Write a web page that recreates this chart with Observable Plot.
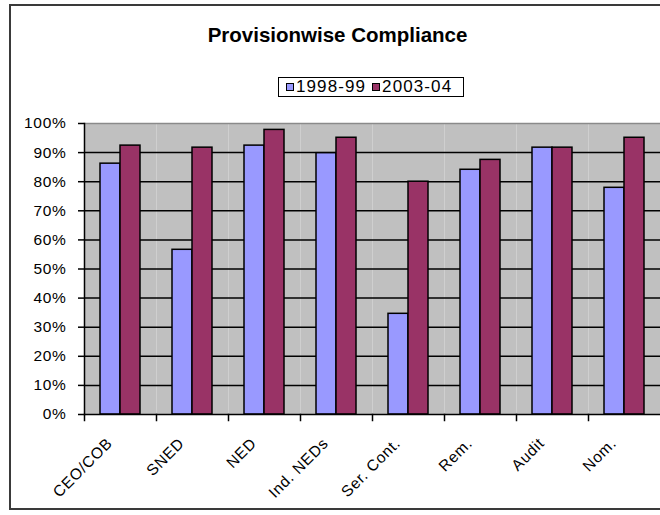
<!DOCTYPE html>
<html>
<head>
<meta charset="utf-8">
<script src="https://cdn.jsdelivr.net/npm/d3@7"></script>
<script src="https://cdn.jsdelivr.net/npm/@observablehq/plot@0.6"></script>
<style>
  html, body { margin: 0; padding: 0; background: #fff; overflow: hidden; width: 660px; height: 515px; }
  body { position: relative; font-family: "Liberation Sans", Arial, sans-serif; }
  #border { position: absolute; left: 9px; top: 4px; width: 680px; height: 506px; border: 2px solid #3a3a3a; box-sizing: border-box; }
  #title { position: absolute; left: 0; width: 675px; top: 25px; line-height: 20px; text-align: center; font-weight: bold; font-size: 20.5px; color: #000; white-space: nowrap; }
  #legend { position: absolute; left: 278px; top: 77px; width: 186px; height: 20px; box-sizing: border-box; border: 1.5px solid #000; background: #fff; display: flex; align-items: center; padding-left: 7px; font-size: 17px; letter-spacing: 1.1px; color: #000; white-space: nowrap; }
  #legend .item { display: flex; align-items: center; margin-right: 6px; flex-shrink: 0; white-space: nowrap; }
  #legend .sw { width: 6px; height: 6px; border: 1px solid #000; margin-right: 2px; flex-shrink: 0; }
  #chart { position: absolute; left: 0; top: 0; }
  #chart svg text { letter-spacing: 0.7px; }
</style>
</head>
<body>
<div id="border"></div>
<div id="chart"></div>
<div id="title">Provisionwise Compliance</div>
<div id="legend"></div>
<script>
const categories = ["CEO/COB", "SNED", "NED", "Ind. NEDs", "Ser. Cont.", "Rem.", "Audit", "Nom."];
const seriesNames = ["1998-99", "2003-04"];
const values1998 = [0.862, 0.566, 0.924, 0.898, 0.346, 0.841, 0.917, 0.779];
const values2003 = [0.924, 0.917, 0.978, 0.951, 0.800, 0.875, 0.917, 0.951];
const seriesColors = ["#9999ff", "#993366"];
const yTicks = [0, 0.1, 0.2, 0.3, 0.4, 0.5, 0.6, 0.7, 0.8, 0.9, 1];
const gridTicks = [0.1, 0.2, 0.3, 0.4, 0.5, 0.6, 0.7, 0.8, 0.9];

const data = [];
categories.forEach((c, i) => {
  data.push({category: c, series: seriesNames[0], value: values1998[i]});
  data.push({category: c, series: seriesNames[1], value: values2003[i]});
});

// legend
const legend = document.getElementById("legend");
seriesNames.forEach((s, i) => {
  const item = document.createElement("div");
  item.className = "item";
  const sw = document.createElement("div");
  sw.className = "sw";
  sw.style.background = seriesColors[i];
  const t = document.createElement("span");
  t.textContent = s;
  item.appendChild(sw);
  item.appendChild(t);
  legend.appendChild(item);
});

const chart = Plot.plot({
  width: 660,
  height: 515,
  marginLeft: 83,
  marginRight: 0,
  marginTop: 123,
  marginBottom: 101,
  style: {fontFamily: "'Liberation Sans', Arial, sans-serif", fontSize: "15px", background: "transparent", color: "#000"},
  fx: {domain: categories, padding: 0, label: null, axis: null},
  x: {domain: seriesNames, paddingInner: 0, paddingOuter: 0.76, axis: null},
  y: {domain: [0, 1], label: null},
  color: {domain: seriesNames, range: seriesColors},
  marks: [
    Plot.frame({fill: "#c0c0c0", stroke: "none"}),
    Plot.ruleY(gridTicks, {stroke: "#000", strokeWidth: 1.5}),
    Plot.ruleY([1], {stroke: "#8a8a8a", strokeWidth: 1.5}),
    Plot.barY(data, {fx: "category", x: "series", y: "value", fill: "series", stroke: "#000", strokeWidth: 1.5}),
    Plot.ruleY([0], {stroke: "#000", strokeWidth: 1.5}),
    Plot.frame({anchor: "left", facetAnchor: "left", stroke: "#000", strokeWidth: 1.5}),
    Plot.frame({anchor: "left", stroke: "#000", strokeWidth: 1.5, insetTop: 291, insetBottom: -6}),
    Plot.axisY({ticks: yTicks, tickFormat: d3.format(".0%"), tickSize: 6, tickPadding: 12, label: null, fontSize: 15.5, strokeWidth: 1.5}),
    Plot.axisFx({anchor: "bottom", rotate: -45, textAnchor: "end", tickSize: 0, tickPadding: 22, dx: -15, label: null, fontSize: 15.5})
  ]
});
document.getElementById("chart").appendChild(chart);
</script>
</body>
</html>
